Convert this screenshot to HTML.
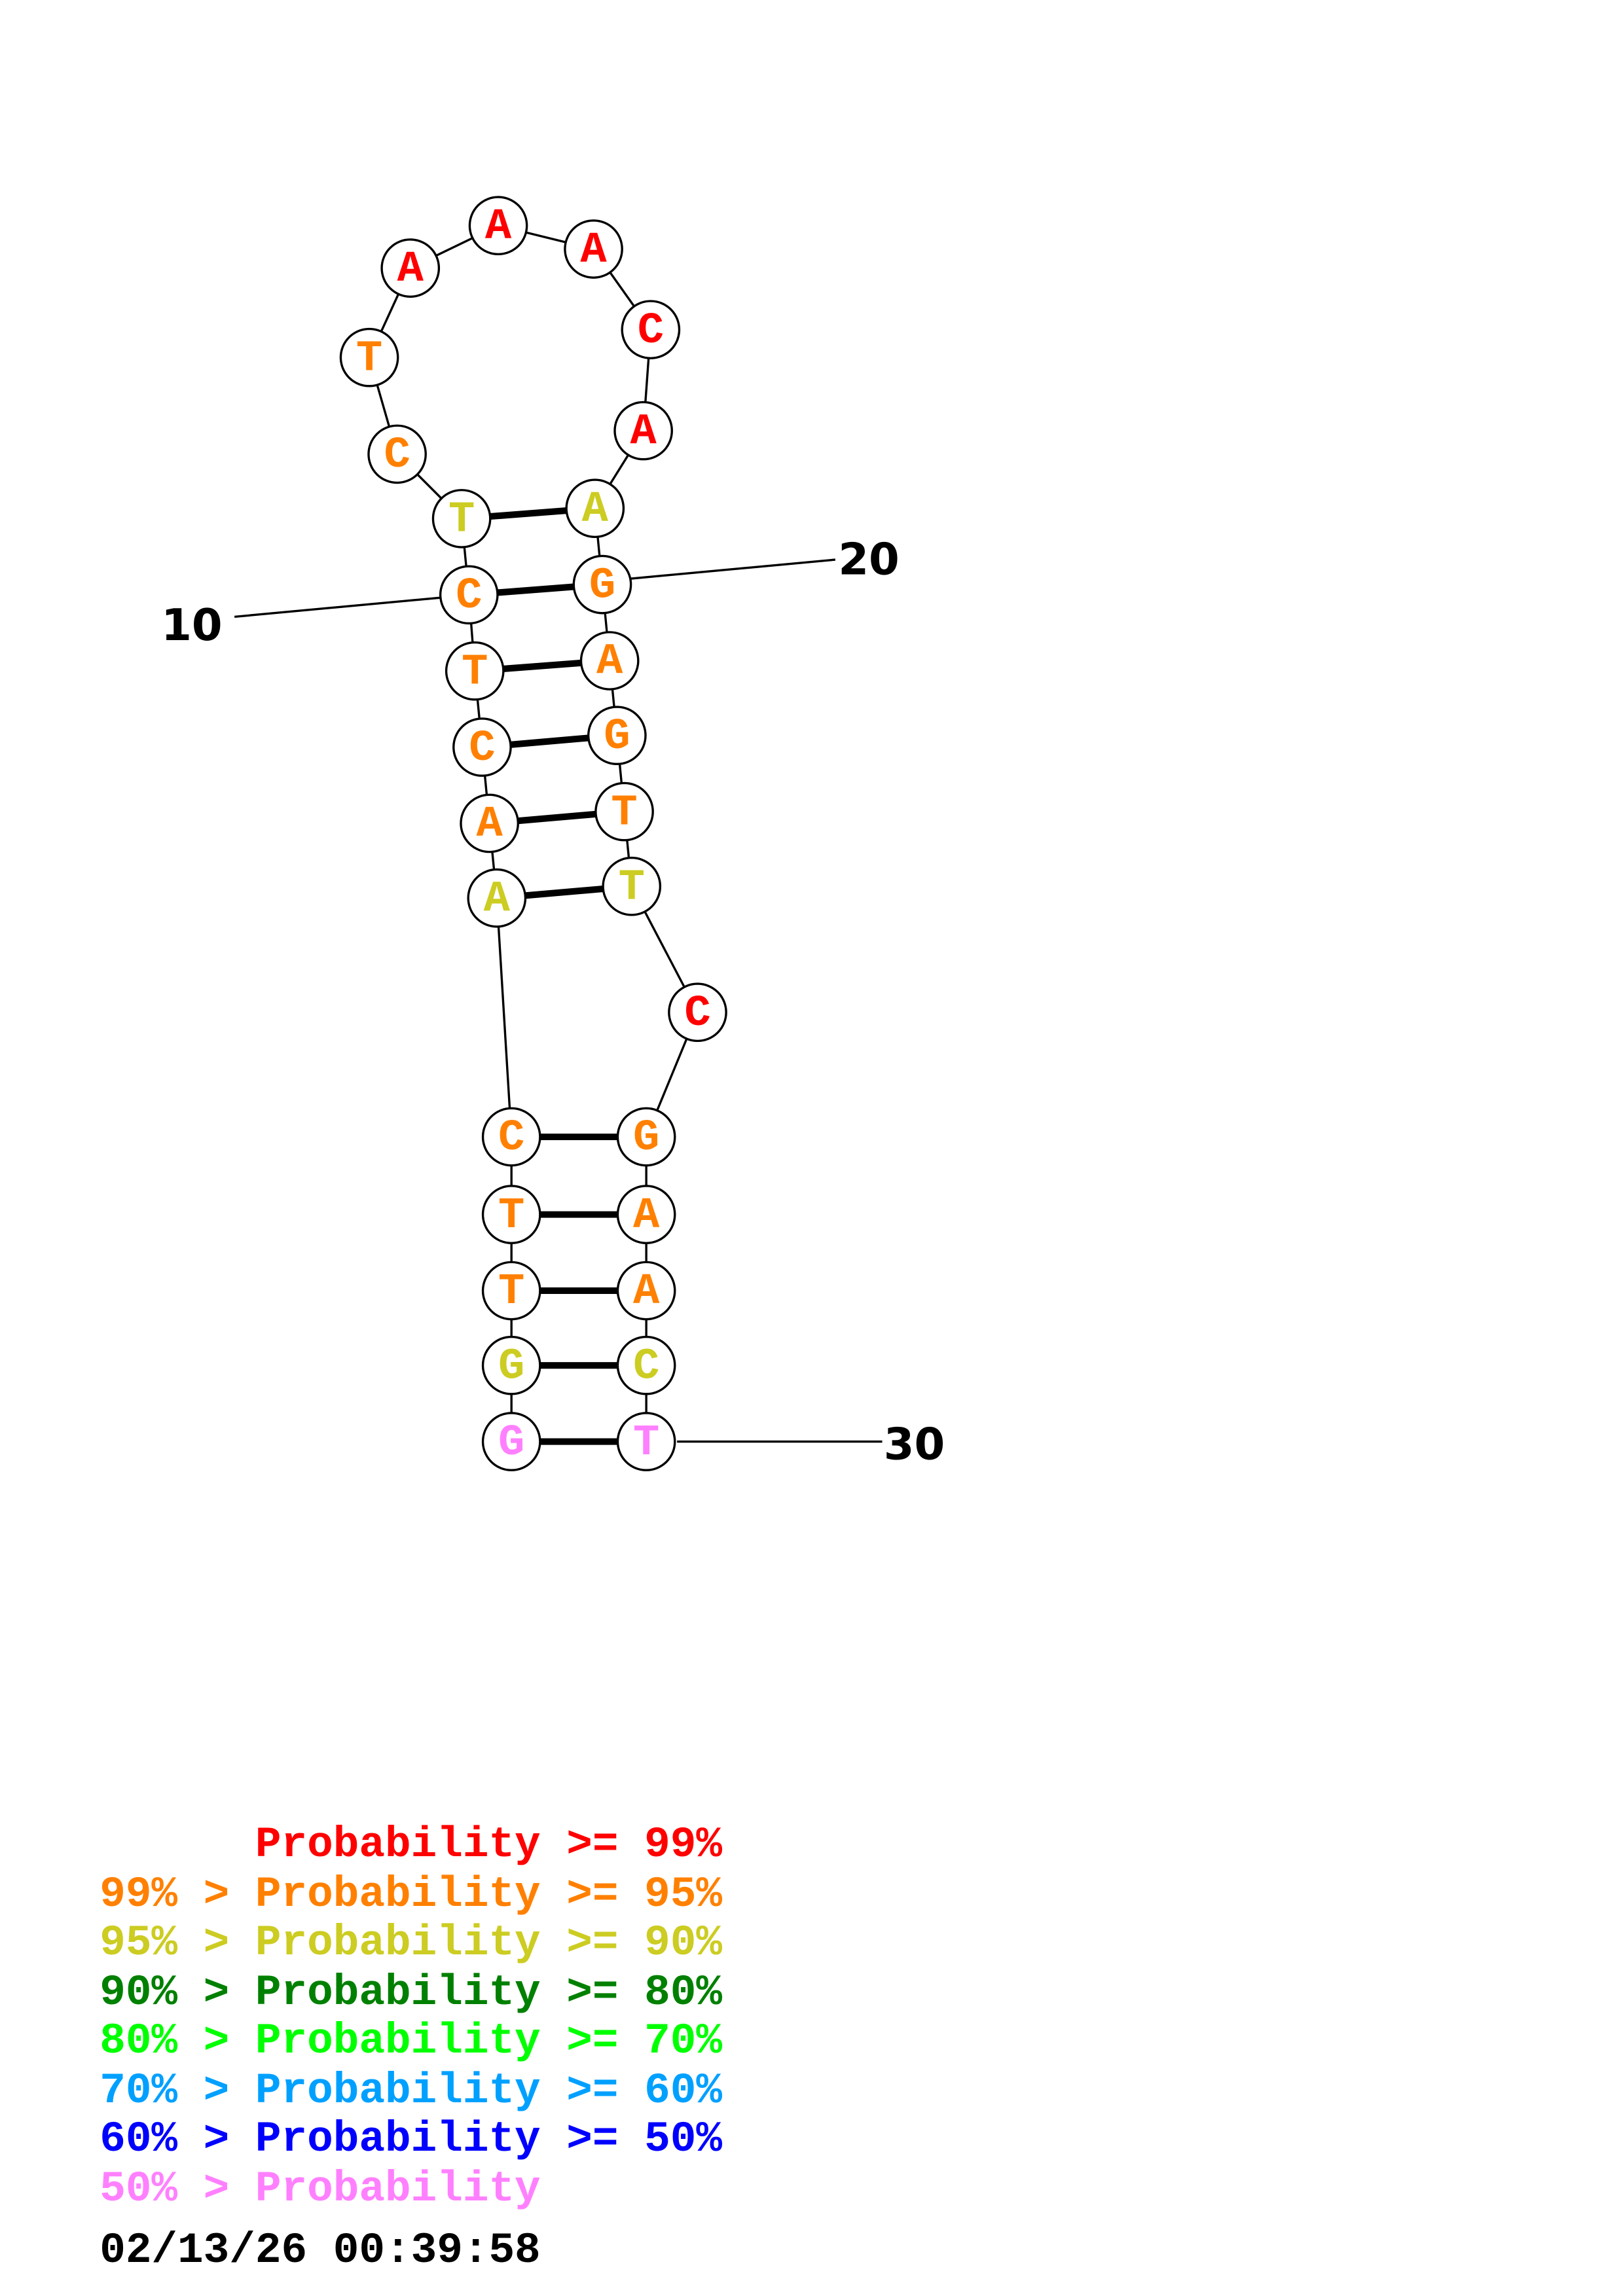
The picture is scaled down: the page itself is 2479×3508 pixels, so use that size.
<!DOCTYPE html>
<html><head><meta charset="utf-8"><style>html,body{margin:0;padding:0;background:#fff}svg{display:block}text{white-space:pre}</style></head>
<body>
<svg width="2479" height="3508" viewBox="0 0 1107.5 1567.2" xmlns="http://www.w3.org/2000/svg">
<rect width="1107.5" height="1567.2" fill="#fff"/>
<g stroke="#000" stroke-width="1.5" fill="none">
<polyline points="349,984 349,932 349,881 349,829 349,776 339,613 334,562 329,510 324,458 320,406 315,354 271,310 252,244 280,183 340,154 405,170 444,225 439,294 406,347 411,399 416,451 421,502 426,554 431,605 476,691 441,776 441,829 441,881 441,932 441,984"/>
<line x1="160" y1="421" x2="300" y2="408"/>
<line x1="430" y1="395" x2="570" y2="382"/>
<line x1="462" y1="984" x2="602" y2="984"/>
</g>
<g stroke="#000" stroke-width="4.5">
<line x1="315" y1="354" x2="406" y2="347"/>
<line x1="320" y1="406" x2="411" y2="399"/>
<line x1="324" y1="458" x2="416" y2="451"/>
<line x1="329" y1="510" x2="421" y2="502"/>
<line x1="334" y1="562" x2="426" y2="554"/>
<line x1="339" y1="613" x2="431" y2="605"/>
<line x1="349" y1="776" x2="441" y2="776"/>
<line x1="349" y1="829" x2="441" y2="829"/>
<line x1="349" y1="881" x2="441" y2="881"/>
<line x1="349" y1="932" x2="441" y2="932"/>
<line x1="349" y1="984" x2="441" y2="984"/>
</g>
<g stroke="#000" stroke-width="1.5" fill="#fff">
<circle cx="349" cy="984" r="19.5"/><circle cx="349" cy="932" r="19.5"/><circle cx="349" cy="881" r="19.5"/><circle cx="349" cy="829" r="19.5"/><circle cx="349" cy="776" r="19.5"/>
<circle cx="339" cy="613" r="19.5"/><circle cx="334" cy="562" r="19.5"/><circle cx="329" cy="510" r="19.5"/><circle cx="324" cy="458" r="19.5"/><circle cx="320" cy="406" r="19.5"/><circle cx="315" cy="354" r="19.5"/>
<circle cx="271" cy="310" r="19.5"/><circle cx="252" cy="244" r="19.5"/><circle cx="280" cy="183" r="19.5"/><circle cx="340" cy="154" r="19.5"/><circle cx="405" cy="170" r="19.5"/><circle cx="444" cy="225" r="19.5"/><circle cx="439" cy="294" r="19.5"/>
<circle cx="406" cy="347" r="19.5"/><circle cx="411" cy="399" r="19.5"/><circle cx="416" cy="451" r="19.5"/><circle cx="421" cy="502" r="19.5"/><circle cx="426" cy="554" r="19.5"/><circle cx="431" cy="605" r="19.5"/>
<circle cx="476" cy="691" r="19.5"/><circle cx="441" cy="776" r="19.5"/><circle cx="441" cy="829" r="19.5"/><circle cx="441" cy="881" r="19.5"/><circle cx="441" cy="932" r="19.5"/><circle cx="441" cy="984" r="19.5"/>
</g>
<g font-family="'Liberation Mono',monospace" font-weight="bold" font-size="30" text-anchor="middle" dominant-baseline="central">
<text x="349" y="985" fill="#ff80ff">G</text><text x="349" y="933" fill="#cccc22">G</text><text x="349" y="882" fill="#ff8000">T</text><text x="349" y="830" fill="#ff8000">T</text><text x="349" y="777" fill="#ff8000">C</text>
<text x="339" y="614" fill="#cccc22">A</text><text x="334" y="563" fill="#ff8000">A</text><text x="329" y="511" fill="#ff8000">C</text><text x="324" y="459" fill="#ff8000">T</text><text x="320" y="407" fill="#ff8000">C</text><text x="315" y="355" fill="#cccc22">T</text>
<text x="271" y="311" fill="#ff8000">C</text><text x="252" y="245" fill="#ff8000">T</text><text x="280" y="184" fill="#ff0000">A</text><text x="340" y="155" fill="#ff0000">A</text><text x="405" y="171" fill="#ff0000">A</text><text x="444" y="226" fill="#ff0000">C</text><text x="439" y="295" fill="#ff0000">A</text>
<text x="406" y="348" fill="#cccc22">A</text><text x="411" y="400" fill="#ff8000">G</text><text x="416" y="452" fill="#ff8000">A</text><text x="421" y="503" fill="#ff8000">G</text><text x="426" y="555" fill="#ff8000">T</text><text x="431" y="606" fill="#cccc22">T</text>
<text x="476" y="692" fill="#ff0000">C</text><text x="441" y="777" fill="#ff8000">G</text><text x="441" y="830" fill="#ff8000">A</text><text x="441" y="882" fill="#ff8000">A</text><text x="441" y="933" fill="#cccc22">C</text><text x="441" y="985" fill="#ff80ff">T</text>
</g>
<g font-family="'DejaVu Sans',sans-serif" font-weight="bold" font-size="30" fill="#000">
<text x="110" y="437">10</text><text x="572" y="392">20</text><text x="603" y="996">30</text>
</g>
<g font-family="'Liberation Mono',monospace" font-weight="bold" font-size="29.5">
<text x="68" y="1267" fill="#ff0000">      Probability &gt;= 99%</text>
<text x="68" y="1301" fill="#ff8000">99% &gt; Probability &gt;= 95%</text>
<text x="68" y="1334" fill="#cccc22">95% &gt; Probability &gt;= 90%</text>
<text x="68" y="1368" fill="#008000">90% &gt; Probability &gt;= 80%</text>
<text x="68" y="1401" fill="#00ff00">80% &gt; Probability &gt;= 70%</text>
<text x="68" y="1435" fill="#00a0ff">70% &gt; Probability &gt;= 60%</text>
<text x="68" y="1468" fill="#0000ff">60% &gt; Probability &gt;= 50%</text>
<text x="68" y="1502" fill="#ff80ff">50% &gt; Probability</text>
<text x="68" y="1544" fill="#000">02/13/26 00:39:58</text>
</g>
</svg>
</body></html>
